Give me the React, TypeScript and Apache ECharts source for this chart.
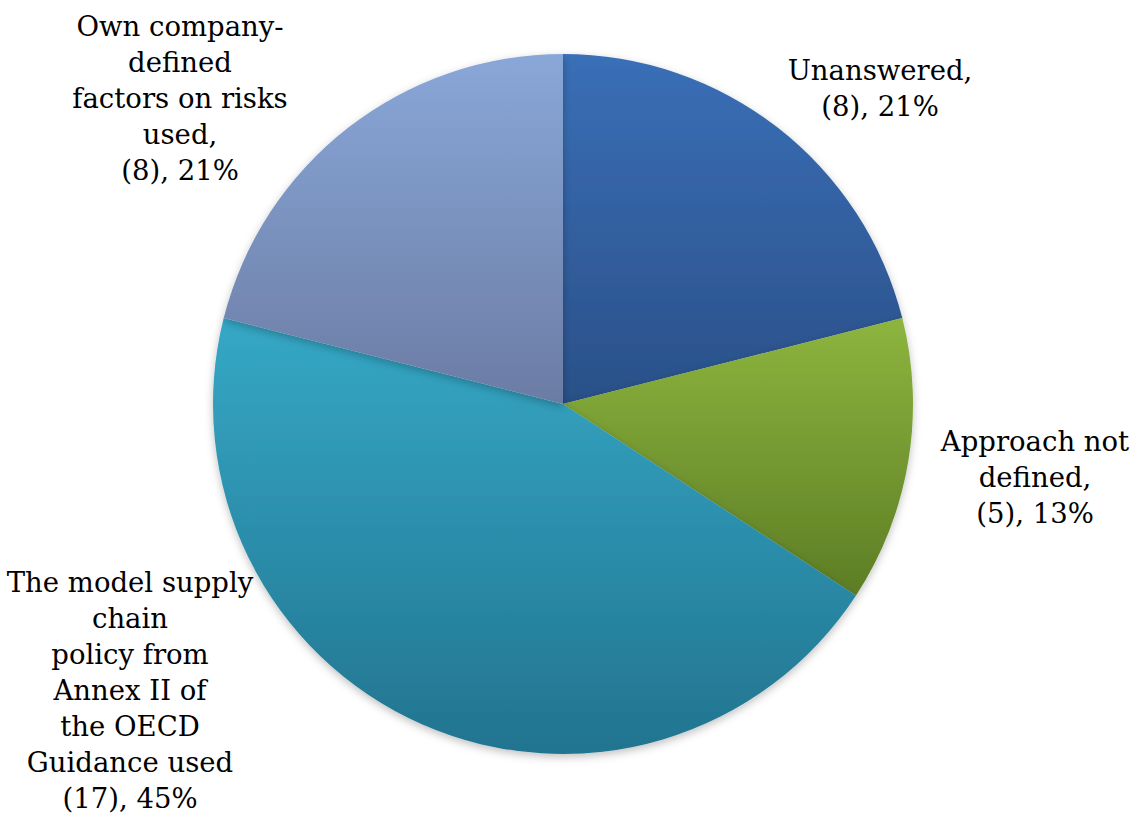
import React, { useEffect, useRef } from "react";
import * as echarts from "echarts";

const categories = [
  "Unanswered",
  "Approach not defined",
  "The model supply chain policy from Annex II of the OECD Guidance used",
  "Own company-defined factors on risks used",
];
const values = [8, 5, 17, 8];
const labelLines = [
  ["Unanswered,"],
  ["Approach not", "defined,"],
  ["The model supply", "chain", "policy from", "Annex II of", "the OECD", "Guidance used"],
  ["Own company-", "defined", "factors on risks", "used,"],
];
const gradientTop = ["#3a6fb7", "#8db53e", "#35a8c6", "#89a7d8"];
const gradientBottom = ["#2a5088", "#5d7d25", "#22748f", "#6b7ca4"];
const labelPos = [
  [880, 88],
  [1035, 477],
  [130, 690],
  [180, 98],
];

export default function App() {
  const ref = useRef<HTMLDivElement>(null);
  useEffect(() => {
    if (!ref.current) return;
    const chart = echarts.init(ref.current, null, { renderer: "svg" });
    chart.setOption({
      animation: false,
      backgroundColor: "#ffffff",
      series: [
        {
          type: "pie",
          center: [563, 404],
          radius: 350,
          startAngle: 90,
          clockwise: true,
          percentPrecision: 0,
          data: categories.map((name, i) => ({
            name,
            value: values[i],
            itemStyle: {
              color: new echarts.graphic.LinearGradient(0, 0, 0, 1, [
                { offset: 0, color: gradientTop[i] },
                { offset: 1, color: gradientBottom[i] },
              ]),
            },
          })),
          itemStyle: {
            borderWidth: 0,
            shadowBlur: 8,
            shadowColor: "rgba(0,0,0,0.25)",
            shadowOffsetY: 3,
          },
          label: {
            show: true,
            position: "outside",
            fontFamily: "DejaVu Serif",
            fontSize: 27.5,
            lineHeight: 36,
            color: "#000",
            align: "center",
            overflow: "none",
            formatter: (p: any) => {
              const lines = labelLines[p.dataIndex].slice();
              lines.push(`(${p.value}), ${p.percent}%`);
              return lines.join("\n");
            },
          },
          labelLine: { show: false },
          labelLayout: (params: any) => ({
            x: labelPos[params.dataIndex][0],
            y: labelPos[params.dataIndex][1],
            align: "center",
            verticalAlign: "middle",
            hideOverlap: false,
          }),
          emphasis: { disabled: true },
        },
      ],
    });
    return () => chart.dispose();
  }, []);
  return (
    <div
      ref={ref}
      style={{ position: "fixed", left: 0, top: 0, width: 1133, height: 822 }}
    />
  );
}
